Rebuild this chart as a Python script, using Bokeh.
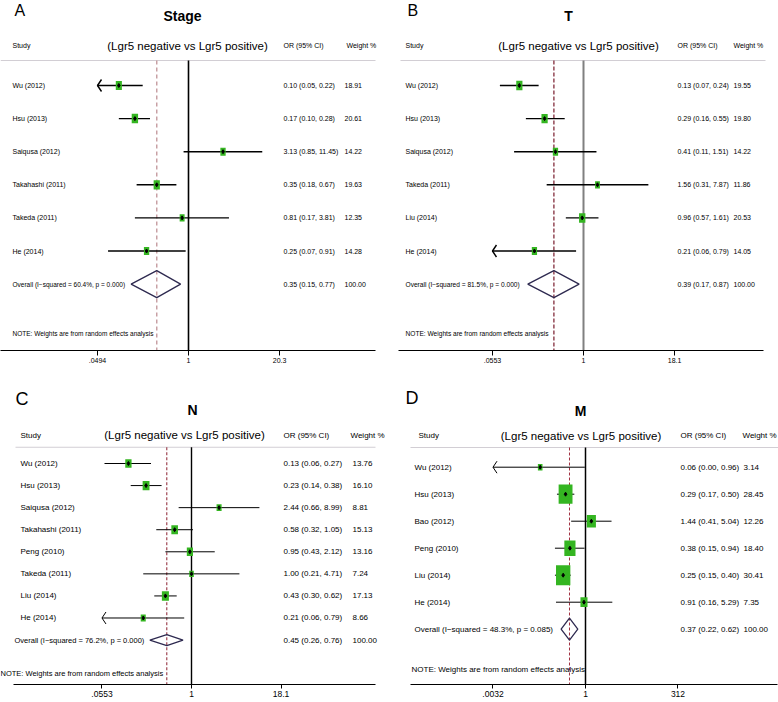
import math
from bokeh.plotting import figure
from bokeh.models import Range1d, FixedTicker, ColumnDataSource, CustomJSTickFormatter
from bokeh.layouts import column, row
from bokeh.core.properties import value
from bokeh.embed import file_html
from bokeh.resources import INLINE

# ---------------- data ----------------
# Panel A: Stage
studies_A = ["Wu (2012)", "Hsu (2013)", "Saiqusa (2012)", "Takahashi (2011)", "Takeda (2011)", "He (2014)"]
or_A = [0.10, 0.17, 3.13, 0.35, 0.81, 0.25]
lo_A = [0.05, 0.10, 0.85, 0.18, 0.17, 0.07]
hi_A = [0.22, 0.28, 11.45, 0.67, 3.81, 0.91]
wt_A = [18.91, 20.61, 14.22, 19.63, 12.35, 14.28]
arrow_A = [True, False, False, False, False, False]
overall_A = [0.35, 0.15, 0.77]
i2_A, p_A = "60.4%", "0.000"
ticks_A = [0.0494, 1, 20.3]
ticklabels_A = [".0494", "1", "20.3"]

# Panel B: T
studies_B = ["Wu (2012)", "Hsu (2013)", "Saiqusa (2012)", "Takeda (2011)", "Liu (2014)", "He (2014)"]
or_B = [0.13, 0.29, 0.41, 1.56, 0.96, 0.21]
lo_B = [0.07, 0.16, 0.11, 0.31, 0.57, 0.06]
hi_B = [0.24, 0.55, 1.51, 7.87, 1.61, 0.79]
wt_B = [19.55, 19.80, 14.22, 11.86, 20.53, 14.05]
arrow_B = [False, False, False, False, False, True]
overall_B = [0.39, 0.17, 0.87]
i2_B, p_B = "81.5%", "0.000"
ticks_B = [0.0553, 1, 18.1]
ticklabels_B = [".0553", "1", "18.1"]

# Panel C: N
studies_C = ["Wu (2012)", "Hsu (2013)", "Saiqusa (2012)", "Takahashi (2011)", "Peng (2010)",
             "Takeda (2011)", "Liu (2014)", "He (2014)"]
or_C = [0.13, 0.23, 2.44, 0.58, 0.95, 1.00, 0.43, 0.21]
lo_C = [0.06, 0.14, 0.66, 0.32, 0.43, 0.21, 0.30, 0.06]
hi_C = [0.27, 0.38, 8.99, 1.05, 2.12, 4.71, 0.62, 0.79]
wt_C = [13.76, 16.10, 8.81, 15.13, 13.16, 7.24, 17.13, 8.66]
arrow_C = [False, False, False, False, False, False, False, True]
overall_C = [0.45, 0.26, 0.76]
i2_C, p_C = "76.2%", "0.000"
ticks_C = [0.0553, 1, 18.1]
ticklabels_C = [".0553", "1", "18.1"]

# Panel D: M
studies_D = ["Wu (2012)", "Hsu (2013)", "Bao (2012)", "Peng (2010)", "Liu (2014)", "He (2014)"]
or_D = [0.06, 0.29, 1.44, 0.38, 0.25, 0.91]
lo_D = [0.00, 0.17, 0.41, 0.15, 0.15, 0.16]
hi_D = [0.96, 0.50, 5.04, 0.94, 0.40, 5.29]
wt_D = [3.14, 28.45, 12.26, 18.40, 30.41, 7.35]
arrow_D = [True, False, False, False, False, False]
overall_D = [0.37, 0.22, 0.62]
i2_D, p_D = "48.3%", "0.085"
ticks_D = [0.0032, 1, 312]
ticklabels_D = [".0032", "1", "312"]

header_text = "(Lgr5 negative vs Lgr5 positive)"
note_text = "NOTE: Weights are from random effects analysis"

SANS = "'Liberation Sans', Arial, sans-serif"
GREEN = "#34b521"
NAVY = "#2e2a50"


def txt(p, xs, ys, texts, size, font=SANS, style="normal", align="left", color="black",
        baseline="middle"):
    src = ColumnDataSource(dict(x=list(xs), y=list(ys), t=list(texts)))
    p.text(x="x", y="y", text="t", source=src, text_font=value(font),
           text_font_size=value(f"{size}px"), text_font_style=style,
           text_align=align, text_baseline=baseline, text_color=color)


def panel(L, letter, title, studies, ors, los, his, wts, arrows, overall, i2, pv, ticks, ticklabels):
    W, H = L["W"], L["H"]
    c, ppd = L["c"], L["ppd"]
    y0, pitch, yax = L["y0"], L["pitch"], L["yaxis"]

    def xd(px):
        return 10 ** ((px - c) / ppd)

    def yd(py):
        return (py - y0) / pitch

    p = figure(width=W, height=H, x_axis_type="log", output_backend="svg", toolbar_location=None,
               x_range=Range1d(xd(0), xd(W)), y_range=Range1d(yd(yax), yd(0)),
               y_axis_location=None, min_border_left=0, min_border_right=0,
               min_border_top=0, min_border_bottom=H - yax)
    p.grid.visible = False
    p.outline_line_color = None
    p.background_fill_color = "white"
    p.border_fill_color = "white"

    ax = p.xaxis[0]
    ax.ticker = FixedTicker(ticks=ticks)
    ax.formatter = CustomJSTickFormatter(args=dict(tv=ticks, tl=ticklabels), code="""
        let best = 0, bd = Infinity;
        for (let i = 0; i < tv.length; i++) {
            const d = Math.abs(Math.log(tick) - Math.log(tv[i]));
            if (d < bd) { bd = d; best = i; }
        }
        return tl[best];
    """)
    ax.minor_tick_line_color = None
    ax.major_tick_in = 0
    ax.major_tick_out = L["tick_out"]
    ax.axis_line_color = "black"
    ax.major_tick_line_color = "black"
    ax.axis_line_width = 1
    ax.major_label_standoff = 2
    ax.major_label_text_font = SANS
    ax.major_label_text_font_size = f"{L['tick_fs']}px"
    ax.major_label_text_color = "black"
    ax.bounds = (xd(L["ax_l"]), xd(L["ax_r"]))

    n = len(studies)
    rows = list(range(n))
    fs = L["fs"]

    # letter and title
    txt(p, [xd(L["letter_x"])], [yd(L["letter_y"])], [letter], L["letter_fs"])
    txt(p, [xd(L["title_x"])], [yd(L["title_y"])], [title], 14, style="bold", align="center")

    # header row
    hy = yd(L["head_y"])
    txt(p, [xd(L["study_x"])], [hy], ["Study"], fs)
    txt(p, [xd(L["hdr_x"])], [hy], [header_text], 11.5, align="center")
    txt(p, [xd(L["or_x"])], [hy], ["OR (95% CI)"], fs)
    txt(p, [xd(L["wh_x"])], [hy], [L["weight_label"]], fs)
    hl = yd(L["hline_y"])
    p.segment(x0=[xd(L["hl_l"])], x1=[xd(L["hl_r"])], y0=[hl], y1=[hl],
              line_color="#d2ced4", line_width=1.2)

    # reference lines
    p.segment(x0=[1], x1=[1], y0=[hl], y1=[yd(yax)], line_color=L["null_color"], line_width=L["null_w"])
    p.segment(x0=[overall[0]], x1=[overall[0]], y0=[hl], y1=[yd(yax)], line_color=L["dash_color"],
              line_width=L["dash_w"], line_dash=L["dash"])

    # CI lines (clipped at axis minimum with arrow)
    tmin = ticks[0]
    x0s = [tmin if a else lo for lo, a in zip(los, arrows)]
    p.segment(x0=x0s, x1=his, y0=rows, y1=rows, line_color="black", line_width=L["ci_w"])
    axs, ays = [], []
    hk = 10 ** (4 / ppd)
    hh = 6 / pitch
    for r, a in zip(rows, arrows):
        if a:
            axs.append([tmin * hk, tmin, tmin * hk])
            ays.append([r - hh, r, r + hh])
    if axs:
        p.multi_line(xs=axs, ys=ays, line_color="black", line_width=L["ci_w"])

    # weighted boxes
    bw = [L["kw"] * math.sqrt(w) for w in wts]
    bh = [L["kh"] * math.sqrt(w) for w in wts]
    bsrc = ColumnDataSource(dict(x=ors, y=rows, w=bw, h=bh))
    p.rect(x="x", y="y", width="w", height="h", width_units="screen", height_units="screen",
           source=bsrc, fill_color=GREEN, line_color=None)
    p.scatter(x=ors, y=rows, marker="diamond", size=4, color="black")

    # row texts
    txt(p, [xd(L["lab_x"])] * n, rows, studies, fs)
    txt(p, [xd(L["or_x"])] * n, rows,
        [f"{o:.2f} ({a:.2f}, {b:.2f})" for o, a, b in zip(ors, los, his)], fs)
    txt(p, [xd(L["wt_x"])] * n, rows, [f"{w:.2f}" for w in wts], fs)

    # overall
    est, olo, ohi = overall
    dh = L["dia_h"] / pitch
    p.patches(xs=[[olo, est, ohi, est]], ys=[[n, n - dh, n, n + dh]], fill_color=None,
              line_color=NAVY, line_width=1.3)
    txt(p, [xd(L["ov_x"])], [n], [f"Overall  (I\u2212squared = {i2}, p = {pv})"], L["ov_fs"])
    txt(p, [xd(L["or_x"])], [n], [f"{est:.2f} ({olo:.2f}, {ohi:.2f})"], fs)
    txt(p, [xd(L["wt_x"])], [n], ["100.00"], fs)

    # note
    txt(p, [xd(L["note_x"])], [n + 1.5], [note_text], L["ov_fs"])
    return p


LA = dict(W=390, H=372, c=188, ppd=69.66, y0=85, pitch=33.1, yaxis=350, tick_out=5, tick_fs=7,
          ax_l=0, ax_r=375, letter_x=14, letter_y=10, letter_fs=16, title_x=182, title_y=15.5,
          head_y=45, study_x=12, hdr_x=187, or_x=283, wh_x=346, weight_label="Weight  %",
          hline_y=60, hl_l=0, hl_r=375, null_color="black", null_w=1.6,
          dash_color="#c8a0a4", dash_w=1.5, dash="4 3", ci_w=1.4, kw=1.4, kh=2.1,
          lab_x=12, wt_x=344, dia_h=13.5, ov_x=12, note_x=12, fs=7, ov_fs=6.5)
LB = dict(W=388, H=372, c=193, ppd=72.4, y0=85, pitch=33.1, yaxis=350, tick_out=5, tick_fs=7,
          ax_l=8, ax_r=373, letter_x=17, letter_y=10, letter_fs=16, title_x=178, title_y=15.5,
          head_y=45, study_x=15, hdr_x=188, or_x=287, wh_x=343, weight_label="Weight %",
          hline_y=60, hl_l=10, hl_r=375, null_color="#808080", null_w=2,
          dash_color="#8b3a48", dash_w=1.4, dash="4 2", ci_w=1.4, kw=1.4, kh=2.1,
          lab_x=15, wt_x=343, dia_h=13.5, ov_x=15, note_x=15, fs=7, ov_fs=6.6)
LC = dict(W=390, H=330, c=191, ppd=71.2, y0=91.3, pitch=22.14, yaxis=313, tick_out=4, tick_fs=8.5,
          ax_l=13, ax_r=375, letter_x=15, letter_y=26.5, letter_fs=18, title_x=192, title_y=38,
          head_y=63, study_x=20, hdr_x=184, or_x=283, wh_x=350, weight_label="Weight   %",
          hline_y=75, hl_l=15, hl_r=375, null_color="black", null_w=1.4,
          dash_color="#8b2030", dash_w=1, dash="3 2", ci_w=1, kw=1.7, kh=2.3,
          lab_x=20, wt_x=352, dia_h=5.5, ov_x=14, note_x=0, fs=8, ov_fs=7.5)
LD = dict(W=388, H=330, c=195, ppd=37.08, y0=94.7, pitch=27, yaxis=312, tick_out=4, tick_fs=8.5,
          ax_l=20, ax_r=387, letter_x=15, letter_y=25.5, letter_fs=18, title_x=190, title_y=38,
          head_y=63, study_x=28, hdr_x=190.5, or_x=290, wh_x=352, weight_label="Weight %",
          hline_y=75, hl_l=20, hl_r=388, null_color="black", null_w=1.5,
          dash_color="#a03040", dash_w=1, dash="3 2", ci_w=1, kw=2.6, kh=3.6,
          lab_x=24, wt_x=353, dia_h=11, ov_x=24, note_x=21, fs=8, ov_fs=8)

pA = panel(LA, "A", "Stage", studies_A, or_A, lo_A, hi_A, wt_A, arrow_A, overall_A, i2_A, p_A, ticks_A, ticklabels_A)
pB = panel(LB, "B", "T", studies_B, or_B, lo_B, hi_B, wt_B, arrow_B, overall_B, i2_B, p_B, ticks_B, ticklabels_B)
pC = panel(LC, "C", "N", studies_C, or_C, lo_C, hi_C, wt_C, arrow_C, overall_C, i2_C, p_C, ticks_C, ticklabels_C)
pD = panel(LD, "D", "M", studies_D, or_D, lo_D, hi_D, wt_D, arrow_D, overall_D, i2_D, p_D, ticks_D, ticklabels_D)

layout = column(row(pA, pB), row(pC, pD))
open("out.html", "w").write(file_html(layout, INLINE))
